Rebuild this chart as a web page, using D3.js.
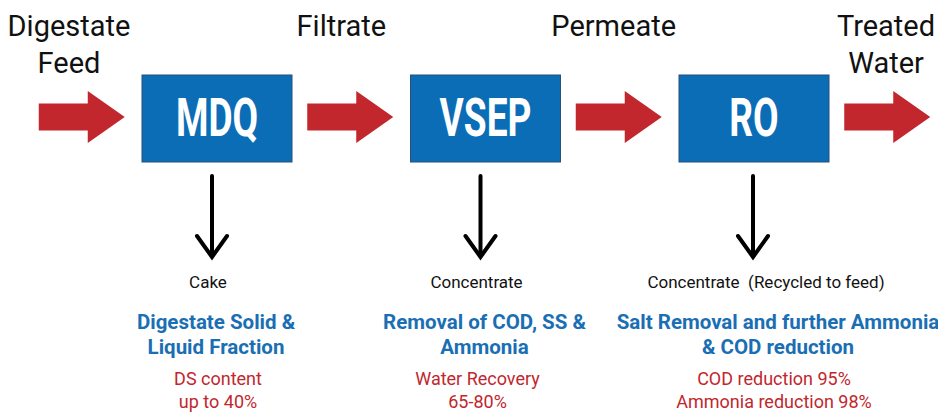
<!DOCTYPE html>
<html>
<head>
<meta charset="utf-8">
<script src="https://cdn.jsdelivr.net/npm/d3@7"></script>
<style>
  body { margin: 0; background: #fff; }
  text { font-family: Roboto, "Noto Sans", sans-serif; }
</style>
</head>
<body>
<div id="chart"></div>
<script>
// process stages and the streams between them
let stages = ["MDQ", "VSEP", "RO"];
let streams = [["Digestate", "Feed"], ["Filtrate"], ["Permeate"], ["Treated", "Water"]];
let rejects = ["Cake", "Concentrate", "Concentrate  (Recycled to feed)"];
let purposes = [["Digestate Solid &", "Liquid Fraction"], ["Removal of COD, SS &", "Ammonia"], ["Salt Removal and further Ammonia", "& COD reduction"]];
let results = [["DS content", "up to 40%"], ["Water Recovery", "65-80%"], ["COD reduction 95%", "Ammonia reduction 98%"]];

let width = 938, height = 412;
let blue = "#0b6db6", red = "#c1272d", blueText = "#1a6fb4";

let svg = d3.select("#chart").append("svg")
    .attr("width", width)
    .attr("height", height);

// column positions, half steps are the stream arrows
let x = d3.scaleLinear()
    .domain([0, stages.length - 1])
    .range([217, 754]);

// stream labels sit a bit apart from their arrows
let xLabel = d3.scaleLinear()
    .domain([-0.5, stages.length - 0.5])
    .range([69, 886]);

let boxW = 150, boxH = 87, boxTop = 75, midY = 117;

// stage boxes
let boxes = svg.selectAll(".stage")
    .data(stages)
    .enter().append("g")
    .attr("class", "stage")
    .attr("transform", (d, i) => "translate(" + x(i) + ",0)");

boxes.append("rect")
    .attr("x", -boxW / 2)
    .attr("y", boxTop)
    .attr("width", boxW)
    .attr("height", boxH)
    .attr("fill", blue)
    .attr("stroke", "#2a4f78")
    .attr("stroke-width", 1);

boxes.append("text")
    .attr("transform", "translate(0," + (midY + 19) + ") scale(0.7,1)")
    .attr("text-anchor", "middle")
    .attr("fill", "white")
    .style("font-size", "53px")
    .style("font-weight", "bold")
    .text(d => d);

// red block arrows
let arrowLen = 86, shaftH = 27, headH = 52, headLen = 37;
let arrowPath = "M" + (-arrowLen / 2) + "," + (-shaftH / 2) +
    "H" + (arrowLen / 2 - headLen) + "V" + (-headH / 2) +
    "L" + (arrowLen / 2) + ",0" +
    "L" + (arrowLen / 2 - headLen) + "," + (headH / 2) +
    "V" + (shaftH / 2) + "H" + (-arrowLen / 2) + "Z";

svg.selectAll(".stream")
    .data(streams)
    .enter().append("path")
    .attr("class", "stream")
    .attr("d", arrowPath)
    .attr("transform", (d, i) => "translate(" + (x(i - 0.5) - 1) + "," + midY + ")")
    .attr("fill", red);

svg.selectAll(".stream-label")
    .data(streams)
    .enter().append("g")
    .attr("class", "stream-label")
    .attr("transform", (d, i) => "translate(" + xLabel(i - 0.5) + ",0)")
    .selectAll("text")
    .data(d => d)
    .enter().append("text")
    .attr("text-anchor", "middle")
    .attr("y", (d, j) => 36 + j * 37)
    .attr("fill", "#111")
    .style("font-size", "29px")
    .text(d => d);

// outputs below each stage
let outs = svg.selectAll(".output")
    .data(stages)
    .enter().append("g")
    .attr("class", "output")
    .attr("transform", (d, i) => "translate(" + x(i) + ",0)");

let dx = i => i == 2 ? -1 : -5;

outs.append("line")
    .attr("x1", (d, i) => dx(i)).attr("x2", (d, i) => dx(i))
    .attr("y1", 176).attr("y2", 256)
    .attr("stroke", "black")
    .attr("stroke-width", 4)
    .attr("stroke-linecap", "round");

outs.append("path")
    .attr("d", (d, i) => "M" + (dx(i) - 15) + ",236 L" + dx(i) + ",257 L" + (dx(i) + 15) + ",236")
    .attr("fill", "none")
    .attr("stroke", "black")
    .attr("stroke-width", 4)
    .attr("stroke-linecap", "round")
    .attr("stroke-linejoin", "miter");

outs.append("text")
    .attr("text-anchor", "middle")
    .attr("x", (d, i) => i == 2 ? 12 : -9)
    .attr("y", 288)
    .attr("fill", "#111")
    .style("font-size", "17px")
    .style("white-space", "pre")
    .text((d, i) => rejects[i]);

outs.each(function (d, i) {
    let g = d3.select(this);
    g.selectAll(".purpose")
        .data(purposes[i])
        .enter().append("text")
        .attr("class", "purpose")
        .attr("text-anchor", "middle")
        .attr("x", i == 2 ? 24 : -1)
        .attr("y", (t, j) => 329 + j * 25)
        .attr("fill", blueText)
        .style("font-size", "20.5px")
        .style("font-weight", "bold")
        .text(t => t);
    g.selectAll(".result")
        .data(results[i])
        .enter().append("text")
        .attr("class", "result")
        .attr("text-anchor", "middle")
        .attr("x", i == 2 ? 20 : (i == 0 ? 1 : -8))
        .attr("y", (t, j) => 385 + j * 23)
        .attr("fill", red)
        .style("font-size", "18px")
        .text(t => t);
});
</script>
</body>
</html>
